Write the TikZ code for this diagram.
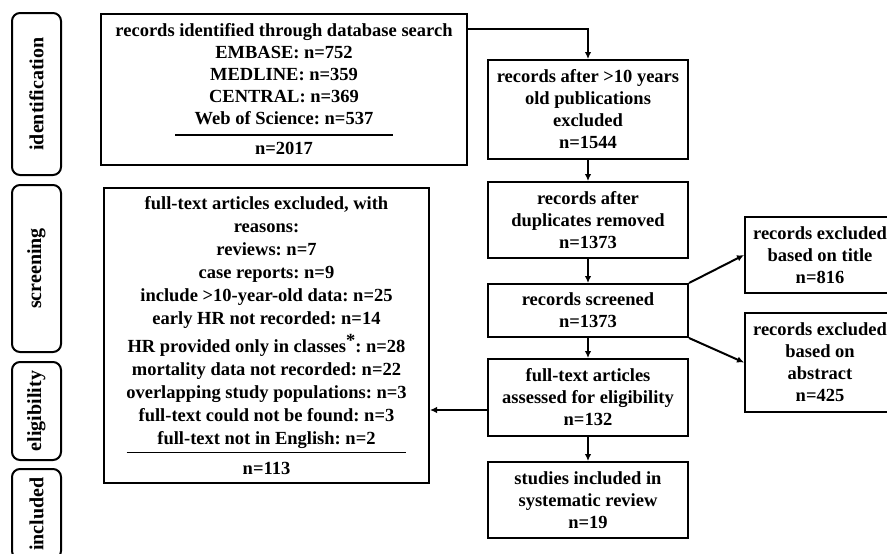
\documentclass[tikz,border=0pt]{standalone}
\usepackage{fontspec}
\setmainfont{Liberation Serif}
\usetikzlibrary{arrows.meta}
\frenchspacing
\begin{document}
\begin{tikzpicture}[x=1pt,y=-1pt,
  box/.style={draw, line width=2pt, align=center, inner sep=0pt,
    font=\bfseries\fontsize{18.5}{22}\selectfont},
  stage/.style={draw, line width=2pt, rounded corners=8pt, rotate=90, inner sep=0pt,
    font=\bfseries\fontsize{20}{22}\selectfont},
  arr/.style={line width=2pt, -{Latex[length=7pt,width=6.5pt]}},
]
\useasboundingbox (0,0) rectangle (887,554);
% stage labels
\node[stage, minimum width=162pt, minimum height=49pt] (sid) at (36.5,94) {identification};
\node[stage, minimum width=167pt, minimum height=49pt] (sscr) at (36.5,268.5) {screening};
\node[stage, minimum width=98pt, minimum height=49pt] (selig) at (36.5,411) {eligibility};
\node[stage, minimum width=90pt, minimum height=49pt] (sincl) at (36.5,514) {included};
% boxes
\node[box, minimum width=366pt, minimum height=151pt] (search) at (284,89.5)
  {records identified through database search\\ EMBASE: n=752\\ MEDLINE: n=359\\ CENTRAL: n=369\\ Web of Science: n=537\\ \rule[11.25pt]{218pt}{1.5pt}\\[-14pt] n=2017};
\node[box, minimum width=200pt, minimum height=99pt] (A) at (588,109.5)
  {records after >10 years\\ old publications\\ excluded\\ n=1544};
\node[box, minimum width=200pt, minimum height=76pt] (B) at (588,220)
  {records after\\ duplicates removed\\ n=1373};
\node[box, minimum width=200pt, minimum height=53pt] (C) at (588,310.5)
  {records screened\\ n=1373};
\node[box, minimum width=200pt, minimum height=77pt] (D) at (588,397.5)
  {full-text articles\\ assessed for eligibility\\ n=132};
\node[box, minimum width=200pt, minimum height=76pt] (E) at (588,500)
  {studies included in\\ systematic review\\ n=19};
\node[box, minimum width=150pt, minimum height=76pt] (F) at (820,255)
  {records excluded\\ based on title\\ n=816};
\node[box, minimum width=150pt, minimum height=99pt] (G) at (820,362.5)
  {records excluded\\ based on\\ abstract\\ n=425};
\node[box, minimum width=325pt, minimum height=295pt, font=\bfseries\fontsize{18.5}{23}\selectfont] (excl) at (266.5,335.5)
  {full-text articles excluded, with\\ reasons:\\ reviews: n=7\\ case reports: n=9\\ include >10-year-old data: n=25\\ early HR not recorded: n=14\\[5pt]
   HR provided only in classes\raisebox{6pt}{*}: n=28\\ mortality data not recorded: n=22\\ overlapping study populations: n=3\\ full-text could not be found: n=3\\ full-text not in English: n=2\\
   \rule[14.25pt]{280pt}{1.5pt}\\[-16pt] n=113};
% connectors
\coordinate (Dout) at ([yshift=-12.5pt]D.west);
\coordinate (sout) at ([yshift=-16pt]search.north east);
\draw[arr] (sout) -| (A.north);
\draw[arr] (A.south) -- (B.north);
\draw[arr] (B.south) -- (C.north);
\draw[arr] (C.south) -- (D.north);
\draw[arr] (D.south) -- (E.north);
\draw[arr] (C.north east) -- (F.west);
\draw[arr] (C.south east) -- (G.west);
\draw[arr] (Dout) -- (excl.east |- Dout);
\end{tikzpicture}
\end{document}
